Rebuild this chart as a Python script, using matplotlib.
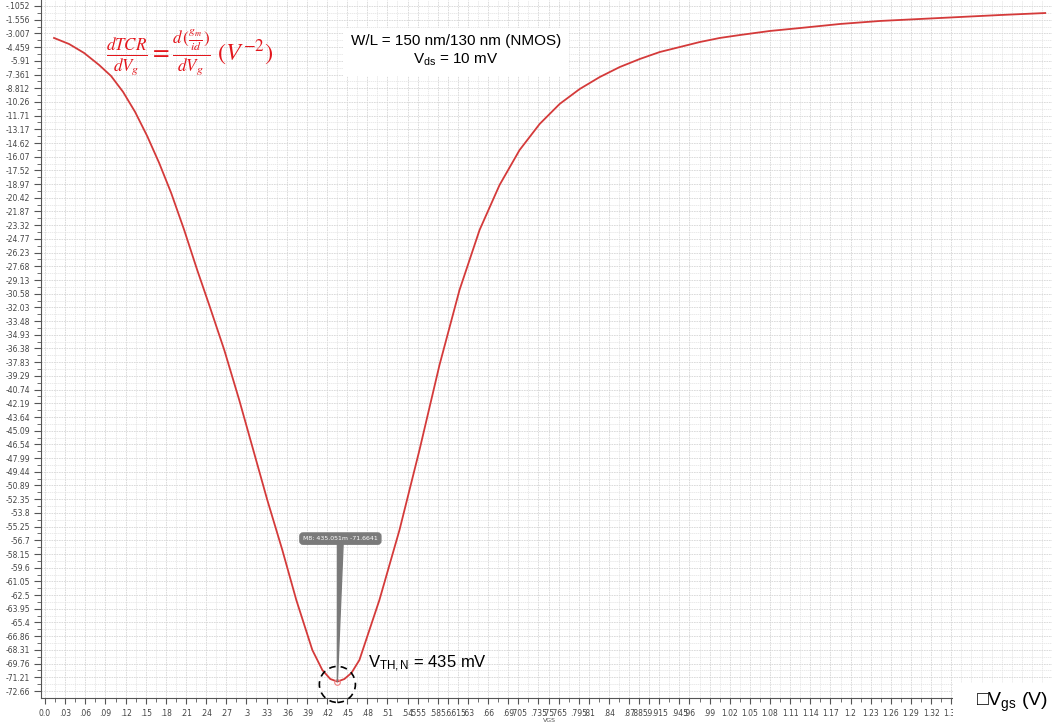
import matplotlib.pyplot as plt
from matplotlib.patches import Ellipse, Rectangle
import numpy as np

# dTCR/dVg curve (Vgs in V)
vgs = [0.0134, 0.0358, 0.0582, 0.0805, 0.0984, 0.1163, 0.1342, 0.1521, 0.17, 0.1879,
       0.2073, 0.2267, 0.2446, 0.267, 0.2893, 0.3102, 0.3311, 0.3535, 0.3743, 0.3982,
       0.4131, 0.425, 0.4355, 0.4459, 0.4564, 0.4683, 0.4981, 0.528, 0.5578, 0.5876,
       0.6174, 0.6473, 0.6771, 0.7069, 0.7368, 0.7666, 0.7964, 0.8263, 0.8561, 0.8859,
       0.9157, 0.9456, 0.9754, 1.0052, 1.0351, 1.0798, 1.1245, 1.1842, 1.2438, 1.3035,
       1.3632, 1.4228, 1.4899]
dtcr = [-3.49, -4.13, -5.08, -6.35, -7.52, -9.21, -11.33, -13.87, -16.73, -19.91,
        -23.83, -28.07, -31.78, -36.54, -41.84, -47.13, -52.43, -57.73, -63.02, -68.32,
        -70.44, -71.39, -71.66, -71.39, -70.75, -69.38, -63.02, -55.61, -47.13, -38.13,
        -30.19, -23.83, -19.06, -15.36, -12.60, -10.48, -8.90, -7.63, -6.57, -5.72,
        -4.98, -4.45, -3.92, -3.49, -3.18, -2.75, -2.44, -2.01, -1.69, -1.48,
        -1.27, -1.06, -0.85]

ytick_labels = ['-.1052', '-1.556', '-3.007', '-4.459', '-5.91', '-7.361', '-8.812', '-10.26',
                '-11.71', '-13.17', '-14.62', '-16.07', '-17.52', '-18.97', '-20.42', '-21.87',
                '-23.32', '-24.77', '-26.23', '-27.68', '-29.13', '-30.58', '-32.03', '-33.48',
                '-34.93', '-36.38', '-37.83', '-39.29', '-40.74', '-42.19', '-43.64', '-45.09',
                '-46.54', '-47.99', '-49.44', '-50.89', '-52.35', '-53.8', '-55.25', '-56.7',
                '-58.15', '-59.6', '-61.05', '-62.5', '-63.95', '-65.4', '-66.86', '-68.31',
                '-69.76', '-71.21', '-72.66']
xtick_labels = ['0.0', '.03', '.06', '.09', '.12', '.15', '.18', '.21', '.24', '.27', '.3',
                '.33', '.36', '.39', '.42', '.45', '.48', '.51', '.54', '.555', '.585', '.6',
                '.615', '.63', '.66', '.69', '.705', '.735', '.75', '.765', '.795', '.81',
                '.84', '.87', '.885', '.9', '.915', '.945', '.96', '.99', '1.02', '1.05',
                '1.08', '1.11', '1.14', '1.17', '1.2', '1.23', '1.26', '1.29', '1.32', '1.35']

marker_text = 'M8: 435.051m -71.6641'

plt.rcParams['mathtext.fontset'] = 'custom'
plt.rcParams['mathtext.rm'] = 'Liberation Sans'
plt.rcParams['mathtext.it'] = 'Liberation Sans:italic'

W, H = 1060, 726
fig = plt.figure(figsize=(W / 100, H / 100), dpi=100)
ax = fig.add_axes([41 / W, 28 / H, (1052 - 41) / W, (H - 28) / H])

ax.plot(vgs, dtcr, color='#d43a3a', lw=1.3, zorder=3)

ax.set_xlim(-0.006, 1.5)
ax.set_ylim(-73.40, 0.53)

ypos = [float(s) for s in ytick_labels]
xpos = [float(s) for s in xtick_labels]
tick_font = ['Liberation Sans Narrow', 'DejaVu Sans']
ax.set_yticks(ypos)
ax.set_yticklabels(ytick_labels, fontsize=5.5, color='#444444', family=tick_font)
ax.set_xticks(xpos)
ax.set_xticklabels(xtick_labels, fontsize=5.5, color='#444444', family=tick_font)
ax.set_yticks([(a + b) / 2 for a, b in zip(ypos[:-1], ypos[1:])], minor=True)
ax.set_xticks(np.arange(0, 1.5, 0.015), minor=True)
ax.tick_params(axis='both', which='major', length=5, width=0.8, color='#555555')
ax.tick_params(axis='both', which='minor', length=3, width=0.6, color='#555555')
ax.tick_params(axis='x', which='major', length=4, pad=4)
ax.tick_params(axis='y', which='major', pad=3)

ax.grid(True, which='major', color='#d6d6d6', lw=0.6, ls=(0, (2, 1)))
ax.grid(True, which='minor', color='#e2e2e2', lw=0.5, ls=(0, (2, 1)))
ax.set_axisbelow(True)
for s in ['top', 'right']:
    ax.spines[s].set_visible(False)
for s in ['left', 'bottom']:
    ax.spines[s].set_color('#555555')
    ax.spines[s].set_linewidth(0.8)

ax.set_xlabel('VGS', fontsize=4.5, color='#555555', family=tick_font)
ax.xaxis.set_label_coords(0.503, -0.028)

# marker at the minimum
i_min = int(np.argmin(dtcr))
x_min, y_min = vgs[i_min], dtcr[i_min]
ax.plot([x_min], [y_min], 'o', ms=4, mfc='none', mec='#f08080', mew=0.8, zorder=4)
ax.annotate(marker_text, xy=(x_min, y_min), xytext=(3, 143), textcoords='offset pixels',
            ha='center', va='center', fontsize=4.5, color='white',
            bbox=dict(boxstyle='round,pad=0.5', fc='#7a7a7a', ec='#7a7a7a'),
            arrowprops=dict(arrowstyle='wedge,tail_width=0.9', fc='#7a7a7a', ec='#7a7a7a',
                            shrinkA=0, shrinkB=0), zorder=5)
ax.add_patch(Ellipse((x_min, y_min - 0.3), width=36 / 670.5, height=36 / 9.44, fill=False,
                     ec='black', lw=1.2, ls=(0, (4, 3)), zorder=5, clip_on=False))
ax.text(x_min + 0.046, y_min + 1.9, r'V$_{\mathrm{TH,N}}$ = 435 mV', fontsize=12,
        family='Liberation Sans', va='center', ha='left', zorder=6)

# formula and device info
fig.text(190 / W, 1 - 53 / H,
         r'$\frac{dTCR}{dV_g}=\frac{d\,(\frac{g_m}{id})}{dV_g}\ (V^{-2})$',
         color='#e3161c', fontsize=17.5, ha='center', va='center', math_fontfamily='stix')
fig.text(456 / W, 1 - 51 / H, 'W/L = 150 nm/130 nm (NMOS)\nV$_{\\mathrm{ds}}$ = 10 mV',
         family='Liberation Sans', fontsize=11, ha='center', va='center', linespacing=1.3,
         bbox=dict(boxstyle='square,pad=0.5', fc='white', ec='none'))

# white patch with the axis name in the lower right corner
fig.patches.append(Rectangle((953 / W, 0), 1 - 953 / W, 43 / H, transform=fig.transFigure,
                             fc='white', ec='none', zorder=10))
fig.text(1012 / W, 1 - 702 / H, '\u25a1V$_{\\mathrm{gs}}$ (V)', family=['Liberation Sans', 'DejaVu Sans'],
         fontsize=14, ha='center', va='center', zorder=11)

fig.savefig('out.png', dpi=100)
